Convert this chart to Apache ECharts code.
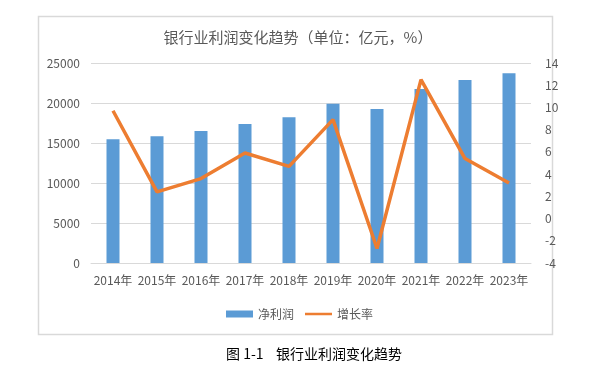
<!DOCTYPE html>
<html>
<head>
<meta charset="utf-8">
<script src="https://cdn.jsdelivr.net/npm/echarts@6/dist/echarts.min.js"></script>
<style>
html,body{margin:0;padding:0;background:#fff;}
#chart{width:607px;height:372px;}
</style>
</head>
<body>
<div id="chart"></div>
<script>
var categories = ['2014年','2015年','2016年','2017年','2018年','2019年','2020年','2021年','2022年','2023年'];
var netProfit = [15460, 15830, 16500, 17380, 18210, 19920, 19250, 21750, 22880, 23710];
var growthRate = [9.7, 2.4, 3.6, 5.9, 4.7, 8.9, -2.7, 12.5, 5.4, 3.2];
var titleText = '银行业利润变化趋势（单位：亿元，%）';
var captionText = '图 1-1    银行业利润变化趋势';

var font = '"Noto Sans CJK SC", "Liberation Sans", sans-serif';
var chart = echarts.init(document.getElementById('chart'), null, {renderer:'canvas'});
chart.setOption({
  backgroundColor: '#ffffff',
  animation: false,
  textStyle: {fontFamily: font},
  title: {
    text: titleText,
    left: 293, textAlign: 'center', top: 25,
    textStyle: {fontSize: 15, fontWeight: 'normal', color: '#595959', fontFamily: font}
  },
  legend: {
    left: 221, top: 303,
    itemWidth: 27, itemHeight: 7, itemGap: 11,
    textStyle: {fontSize: 12, color: '#595959', fontFamily: font},
    data: [
      {name: '净利润', icon: 'rect'},
      {name: '增长率', icon: 'path://M0,0 L30,0 M0,7 L30,7 M0,2 L30,2 L30,5 L0,5 Z', itemStyle: {color: '#ED7D31'}}
    ]
  },
  grid: {left: 91, right: 76, top: 63, bottom: 109, containLabel: false},
  xAxis: {
    type: 'category', data: categories,
    axisLine: {lineStyle: {color: '#d9d9d9', width: 1}},
    axisTick: {show: false},
    axisLabel: {color: '#595959', fontSize: 12, margin: 11, interval: 0, fontFamily: font}
  },
  yAxis: [
    {
      type: 'value', min: 0, max: 25000, interval: 5000,
      axisLine: {show: false}, axisTick: {show: false},
      splitLine: {lineStyle: {color: '#d9d9d9', width: 1}},
      axisLabel: {color: '#595959', fontSize: 12, margin: 11, fontFamily: font,
        formatter: function (v) { return String(v); }}
    },
    {
      type: 'value', min: -4, max: 14, interval: 2,
      axisLine: {show: false}, axisTick: {show: false},
      splitLine: {show: false},
      axisLabel: {color: '#595959', fontSize: 12, margin: 14, fontFamily: font,
        formatter: function (v) { return String(v); }}
    }
  ],
  series: [
    {
      name: '净利润', type: 'bar', data: netProfit, yAxisIndex: 0,
      barWidth: 13,
      itemStyle: {color: '#5B9BD5'}
    },
    {
      name: '增长率', type: 'line', data: growthRate, yAxisIndex: 1,
      symbol: 'none',
      lineStyle: {color: '#ED7D31', width: 3.5},
      itemStyle: {color: '#ED7D31'}
    }
  ],
  graphic: [
    {
      type: 'rect', left: 36, top: 14, silent: true, z: -1,
      shape: {width: 514, height: 318},
      style: {fill: null, stroke: '#d9d9d9', lineWidth: 1.5}
    },
    {
      type: 'text', left: 226, top: 347,
      style: {text: captionText, fill: '#000000', font: '14px "Noto Sans CJK SC", serif'}
    }
  ]
});
</script>
</body>
</html>
